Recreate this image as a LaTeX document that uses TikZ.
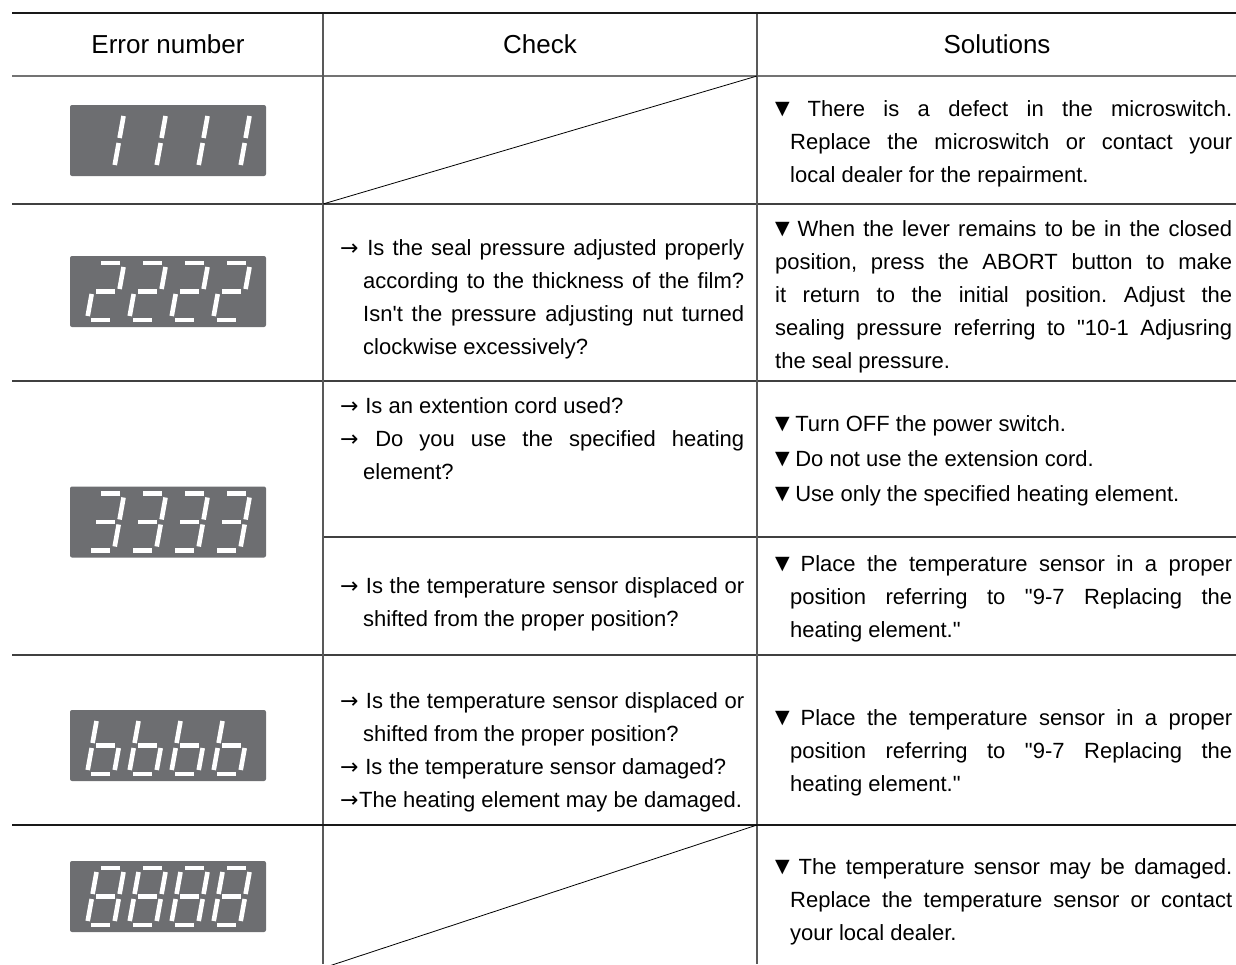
\documentclass[tikz,border=0pt]{standalone}
\usepackage{fontspec}
\setmainfont{Liberation Sans}[Ligatures=TeXOff]
\newfontfamily\symfont{DejaVu Sans}
\usepackage{xcolor}
\usepackage{tikz}
\usetikzlibrary{calc,positioning}

\definecolor{dispgray}{HTML}{6D6E71}
\frenchspacing

% bullets of the two text columns
\newcommand{\arr}{\makebox[19pt][l]{\symfont\fontsize{22}{22}\selectfont →}}
\newcommand{\tri}{\makebox[14pt][l]{\raisebox{1.5pt}{\symfont\fontsize{19}{19}\selectfont ▼}}}
\newcommand{\chk}[1]{\noindent\hangindent=23pt\hangafter=1\arr\ #1\par}
\newcommand{\sol}[2][15pt]{\noindent\hangindent=#1\hangafter=1\tri\ #2\par}

% seven segment digits: x1/y1/x2/y2 of every lit segment
\def\digone{27/-53/27/-31, 27/-26/27/-4}
\def\digtwo{4/-57/23/-57, 27/-53/27/-31, 4/-28.5/23/-28.5, 0/-26/0/-4, 4/0/23/0}
\def\digthree{4/-57/23/-57, 27/-53/27/-31, 4/-28.5/23/-28.5, 27/-26/27/-4, 4/0/23/0}
\def\digb{0/-53/0/-31, 4/-28.5/23/-28.5, 0/-26/0/-4, 27/-26/27/-4, 4/0/23/0}
\def\digeight{4/-57/23/-57, 0/-53/0/-31, 27/-53/27/-31, 4/-28.5/23/-28.5, 0/-26/0/-4, 27/-26/27/-4, 4/0/23/0}
\newcommand{\showdigits}[2]{%
  \foreach \i in {0,...,3}{
    \begin{scope}[shift={(87+42*\i,#1)}, xslant=0.18]
      \foreach \xa/\ya/\xb/\yb in #2 {\draw[segment] (\xa,\ya) -- (\xb,\yb);}
    \end{scope}
  }}

\begin{document}
\begin{tikzpicture}[
	%	style def
    x=1pt, y=-1pt,
    top rule/.style={line width=2.4pt, color=black!90},
    head rule/.style={line width=1.4pt, color=black!55},
    row rule/.style={line width=1.1pt, color=black!75},
    col rule/.style={line width=1.1pt, color=black!65},
    diag rule/.style={line width=0.8pt, color=black},
    display/.style={fill=dispgray, rounded corners=2pt, minimum width=196pt, minimum height=71pt, inner sep=0pt},
    segment/.style={line width=4.6pt, white},
    head/.style={anchor=base, inner sep=0pt, font=\fontsize{26}{30}\selectfont},
    check/.style={anchor=base west, inner sep=0pt, text width=404pt, align=justify, font=\fontsize{22}{33}\selectfont},
    solution/.style={anchor=base west, inner sep=0pt, text width=457pt, align=justify, font=\fontsize{22}{33}\selectfont}
    ]
    \useasboundingbox (0,0) rectangle (1236,964);

	% table grid
    \draw[head rule] (12,76) -- (1236,76);
    \draw[row rule] (12,204) -- (1236,204);
    \draw[row rule] (12,381) -- (1236,381);
    \draw[row rule] (323,537) -- (1236,537);
    \draw[row rule] (12,655) -- (1236,655);
    \draw[col rule] (323,13) coordinate (ctop1) -- (323,964);
    \draw[col rule] (757,13) coordinate (ctop2) -- (757,964);
    \draw[top rule] (12,13) -- (1236,13);
    \draw[top rule] (12,825) -- (1236,825);
    % empty check cells
    \draw[diag rule] (757,76) -- (323,204);
    \draw[diag rule] (757,825) -- (323,968);

    % header
    \node[head] (hnum) at (168,53.5) {Error number};
    \node[head] (hchk) at (540,53.5) {Check};
    \node[head] (hsol) at (997,53.5) {Solutions};

    % error displays
    \node[display] (d1) at (168,140.5) {};
    \showdigits{169}{\digone}
    \node[display] (d2) at (168,291.5) {};
    \showdigits{320}{\digtwo}
    \node[display] (d3) at (168,522) {};
    \showdigits{550.5}{\digthree}
    \node[display] (d4) at (168,745.5) {};
    \showdigits{774}{\digb}
    \node[display] (d5) at (168,896.5) {};
    \showdigits{925}{\digeight}

    % checks
    \node[check] (c2) at (340,255) {\chk{Is the seal pressure adjusted properly\linebreak according to the thickness of the film?\linebreak Isn't the pressure adjusting nut turned\linebreak clockwise excessively?}};
    \node[check] (c3a) at (340,413) {\chk{Is an extention cord used?}\chk{Do you use the specified heating\linebreak element?}};
    \node[check] (c3b) at (340,593) {\chk{Is the temperature sensor displaced or\linebreak shifted from the proper position?}};
    \node[check] (c4) at (340,708) {\chk{Is the temperature sensor displaced or\linebreak shifted from the proper position?}\chk{Is the temperature sensor damaged?}\noindent\arr The heating element may be damaged.};

    % solutions
    \node[solution] (s1) at (775,116) {\sol{There is a defect in the microswitch.\linebreak Replace the microswitch or contact your\linebreak local dealer for the repairment.}};
    \node[solution] (s2) at (775,236) {\sol[0pt]{When the lever remains to be in the closed\linebreak position, press the ABORT button to make\linebreak it return to the initial position. Adjust the\linebreak sealing pressure referring to "10-1 Adjusring\linebreak the seal pressure.}};
    \node[solution, font=\fontsize{22}{35}\selectfont] (s3a) at (775,431) {\sol{Turn OFF the power switch.}\sol{Do not use the extension cord.}\sol{Use only the specified heating element.}};
    \node[solution] (s3b) at (775,571) {\sol{Place the temperature sensor in a proper\linebreak position referring to "9-7 Replacing the\linebreak heating element."}};
    \node[solution] (s4) at (775,725) {\sol{Place the temperature sensor in a proper\linebreak position referring to "9-7 Replacing the\linebreak heating element."}};
    \node[solution] (s5) at (775,874) {\sol{The temperature sensor may be damaged.\linebreak Replace the temperature sensor or contact\linebreak your local dealer.}};
\end{tikzpicture}
\end{document}
